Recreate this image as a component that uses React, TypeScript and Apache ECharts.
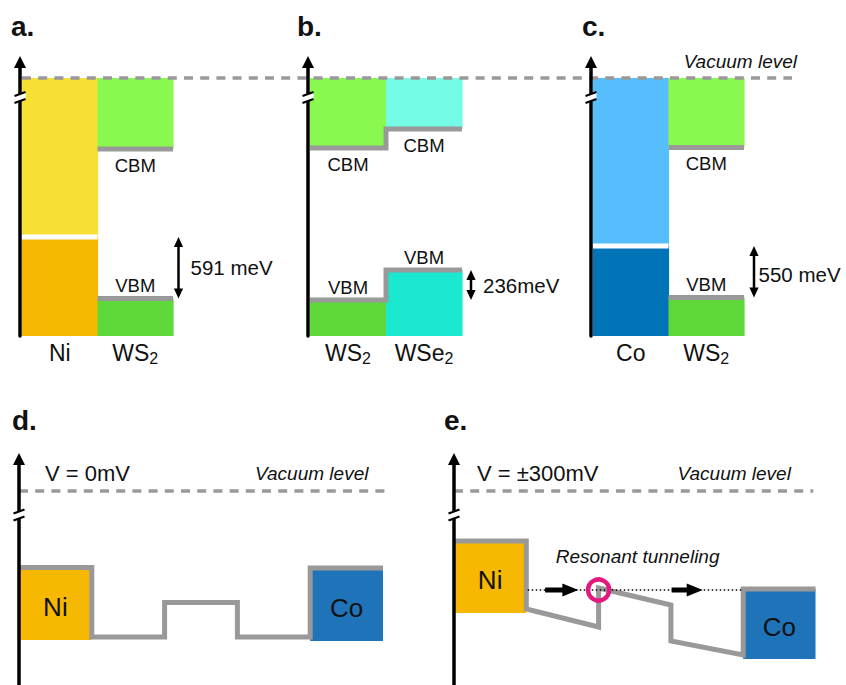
import React, { useEffect, useRef } from "react";
import * as echarts from "echarts";

const FONT = '"Liberation Sans", Arial, Helvetica, sans-serif';
const INK = "#111111";
const GRAY = "#999999";

// ---------------- data (energies in eV relative to the vacuum level, schematic) ----------------
const catsA = ["Ni", "WS2"];
const catsB = ["WS2", "WSe2"];
const catsC = ["Co", "WS2"];

const vacuumLevel = 0;
const bandFloor = -2.58;

const fermiA = [-1.59, null];
const cbmA = [null, -0.71];
const vbmA = [null, -2.205];

const fermiB = [null, null];
const cbmB = [-0.7, -0.51];
const vbmB = [-2.22, -1.92];

const fermiC = [-1.68, null];
const cbmC = [null, -0.695];
const vbmC = [null, -2.195];

const offsetLabels = ["591 meV", "236meV", "550 meV"];

const layerPos = [0, 1, 1, 2, 2, 3, 3, 4, 4, 5];
const profileD = [-0.765, -0.765, -1.46, -1.46, -1.115, -1.115, -1.46, -1.46, -0.77, -0.77];
const profileE = [-0.5, -0.5, -1.18, -1.36, -0.97, -1.14, -1.5, -1.64, -0.98, -0.98];

const electrodeNames = ["Ni", "Co"];
const electrodeLayers = [
  [0, 1],
  [4, 5],
];
const electrodeTopD = [-0.765, -0.77];
const electrodeBottomD = [-1.49, -1.5];
const electrodeTopE = [-0.5, -0.98];
const electrodeBottomE = [-1.22, -1.68];

const biasLabels = ["V = 0mV", "V = ±300mV"];
const tunnelLevel = -0.99;
const tunnelSpan = [1.02, 3.98];
const tunnelArrows = [
  [1.26, 1.72],
  [3.01, 3.44],
];
const resonanceX = 2;
const panelLetters = ["a.", "b.", "c.", "d.", "e."];

// ---------------- styles / layout ----------------
const upperColor: Record<string, string> = { Ni: "#F8DF34", Co: "#57BEFE", WS2: "#89F94F", WSe2: "#75FCE7" };
const lowerColor: Record<string, string> = { Ni: "#F6B800", Co: "#0174B8", WS2: "#5FD83A", WSe2: "#1AE8D1" };
const electrodeColor: Record<string, string> = { Ni: "#F6B800", Co: "#1F74B9" };

const TOP = { top: 62, height: 274, min: -2.58, max: 0.16, breakAt: -0.195 };
const BOT = { top: 459, height: 226, min: -1.94, max: 0.32, breakAt: -0.24 };
const topGrids = [
  { left: 22, width: 151 },
  { left: 310, width: 152 },
  { left: 593, width: 151 },
];
const overlayGrid = { left: 22, width: 770 };
const botGrids = [
  { left: 19, width: 364 },
  { left: 454, width: 361.5 },
];
const titlePos = [
  [11, 12],
  [297, 12],
  [582, 12],
  [12, 406],
  [444, 406],
];

const textStyle = (extra: any) => ({ fill: INK, fontFamily: FONT, ...extra });

function breakMark(x: number, y: number) {
  const w = 5.5;
  return [
    {
      type: "polygon",
      shape: { points: [[x - w, y - 1.5], [x + w, y - 5.5], [x + w, y + 1.5], [x - w, y + 5.5]] },
      style: { fill: "#ffffff" },
    },
    { type: "line", shape: { x1: x - w, y1: y - 1.5, x2: x + w, y2: y - 5.5 }, style: { stroke: "#000", lineWidth: 2.2 } },
    { type: "line", shape: { x1: x - w, y1: y + 5.5, x2: x + w, y2: y + 1.5 }, style: { stroke: "#000", lineWidth: 2.2 } },
  ];
}

function breakSeries(idx: number, level: number, axisOffset: number) {
  return {
    type: "custom",
    xAxisIndex: idx,
    yAxisIndex: idx,
    clip: false,
    silent: true,
    z: 12,
    data: [[0, level]],
    renderItem: (params: any, api: any) => {
      const y = api.coord([0, level])[1];
      return { type: "group", children: breakMark(params.coordSys.x - axisOffset, y) };
    },
  };
}

function bandSeries(p: number, cats: string[], fermi: any[], cbm: any[], vbm: any[]) {
  return {
    type: "custom",
    xAxisIndex: p,
    yAxisIndex: p,
    clip: false,
    silent: true,
    z: 2,
    data: cats.map((_, i) => [i, vacuumLevel]),
    renderItem: (params: any, api: any) => {
      const i = params.dataIndex;
      const name = cats[i];
      const [cx, yVac] = api.coord([i, vacuumLevel]);
      const bw = api.size([1, 0])[0];
      const x0 = cx - bw / 2;
      const yFloor = api.coord([i, bandFloor])[1];
      const rect = (yt: number, yb: number, fill: string) => ({
        type: "rect",
        shape: { x: x0, y: yt, width: bw + 0.6, height: yb - yt },
        style: { fill },
      });
      const ch: any[] = [];
      if (fermi[i] != null) {
        const yF = api.coord([i, fermi[i]])[1];
        ch.push(rect(yVac, yF, upperColor[name]), rect(yF, yFloor, lowerColor[name]));
        ch.push({ type: "line", shape: { x1: x0, y1: yF, x2: x0 + bw, y2: yF }, style: { stroke: "#ffffff", lineWidth: 5 } });
      } else {
        const yC = api.coord([i, cbm[i]])[1];
        const yV = api.coord([i, vbm[i]])[1];
        ch.push(rect(yVac, yC, upperColor[name]), rect(yV, yFloor, lowerColor[name]));
      }
      return { type: "group", children: ch };
    },
  };
}

function levelSeries(
  p: number,
  cats: string[],
  cbm: any[],
  vbm: any[],
  from: number,
  to: number,
  label: string,
  arrowDx: number,
  textDx: number,
  textDy: number
) {
  return {
    type: "custom",
    xAxisIndex: p,
    yAxisIndex: p,
    clip: false,
    silent: true,
    z: 4,
    data: [[0, vacuumLevel]],
    renderItem: (params: any, api: any) => {
      const bw = api.size([1, 0])[0];
      const xs = cats.map((_, i) => api.coord([i, vacuumLevel])[0]);
      const ch: any[] = [];
      const levelLine = (vals: any[]) => {
        const pts: number[][] = [];
        vals.forEach((v, i) => {
          if (v == null) return;
          const y = api.coord([i, v])[1];
          pts.push([xs[i] - bw / 2, y], [xs[i] + bw / 2, y]);
        });
        return {
          type: "polyline",
          shape: { points: pts },
          style: { stroke: GRAY, lineWidth: 5, fill: "none", lineJoin: "miter" },
        };
      };
      ch.push(levelLine(cbm), levelLine(vbm));
      cats.forEach((_, i) => {
        if (cbm[i] != null) {
          const y = api.coord([i, cbm[i]])[1];
          ch.push({ type: "text", style: textStyle({ text: "CBM", x: xs[i], y: y + 16, fontSize: 18.5, align: "center", verticalAlign: "middle" }) });
        }
        if (vbm[i] != null) {
          const y = api.coord([i, vbm[i]])[1];
          ch.push({ type: "text", style: textStyle({ text: "VBM", x: xs[i], y: y - 13, fontSize: 18.5, align: "center", verticalAlign: "middle" }) });
        }
      });
      // double arrow for the energy offset
      const ax = params.coordSys.x + params.coordSys.width + arrowDx;
      const y1 = api.coord([0, from])[1];
      const y2 = api.coord([0, to])[1];
      const yT = Math.min(y1, y2);
      const yB = Math.max(y1, y2);
      const head = 10;
      const hw = 4.6;
      ch.push(
        { type: "line", shape: { x1: ax, y1: yT + head - 1, x2: ax, y2: yB - head + 1 }, style: { stroke: "#000", lineWidth: 2.5 } },
        { type: "polygon", shape: { points: [[ax, yT], [ax - hw, yT + head], [ax + hw, yT + head]] }, style: { fill: "#000" } },
        { type: "polygon", shape: { points: [[ax, yB], [ax - hw, yB - head], [ax + hw, yB - head]] }, style: { fill: "#000" } },
        {
          type: "text",
          style: textStyle({ text: label, x: ax + textDx, y: (yT + yB) / 2 + textDy, fontSize: 20.5, align: "left", verticalAlign: "middle" }),
        }
      );
      return { type: "group", children: ch };
    },
  };
}

function electrodeSeries(idx: number, tops: number[], bottoms: number[]) {
  return {
    type: "custom",
    xAxisIndex: idx,
    yAxisIndex: idx,
    clip: false,
    silent: true,
    z: 2,
    data: electrodeNames.map((_, i) => [electrodeLayers[i][0], tops[i]]),
    renderItem: (params: any, api: any) => {
      const i = params.dataIndex;
      const name = electrodeNames[i];
      const [x0, yT] = api.coord([electrodeLayers[i][0], tops[i]]);
      const [x1, yB] = api.coord([electrodeLayers[i][1], bottoms[i]]);
      return {
        type: "group",
        children: [
          { type: "rect", shape: { x: x0, y: yT, width: x1 - x0, height: yB - yT }, style: { fill: electrodeColor[name] } },
          {
            type: "text",
            style: textStyle({ text: name, x: (x0 + x1) / 2, y: (yT + yB) / 2 + 3, fontSize: 26, align: "center", verticalAlign: "middle" }),
          },
        ],
      };
    },
  };
}

function profileSeries(idx: number, profile: number[]) {
  return {
    type: "line",
    xAxisIndex: idx,
    yAxisIndex: idx,
    data: layerPos.map((x, i) => [x, profile[i]]),
    symbol: "none",
    silent: true,
    clip: false,
    z: 3,
    lineStyle: { color: GRAY, width: 5, join: "miter", cap: "butt" },
  };
}

function vacuumSeries(idx: number, span: number[], bias: string, biasDx: number, vacTextX: number) {
  return {
    type: "custom",
    xAxisIndex: idx,
    yAxisIndex: idx,
    clip: false,
    silent: true,
    z: 5,
    data: [[span[0], vacuumLevel]],
    renderItem: (params: any, api: any) => {
      const [xa, y] = api.coord([span[0], vacuumLevel]);
      const xb = api.coord([span[1], vacuumLevel])[0];
      const xt = api.coord([vacTextX, vacuumLevel])[0];
      return {
        type: "group",
        children: [
          { type: "line", shape: { x1: xa, y1: y, x2: xb, y2: y }, style: { stroke: GRAY, lineWidth: 3.3, lineDash: [9, 7.2] } },
          {
            type: "text",
            style: textStyle({ text: bias, x: params.coordSys.x + biasDx, y: y - 18, fontSize: 22, align: "left", verticalAlign: "middle" }),
          },
          {
            type: "text",
            style: textStyle({ text: "Vacuum level", x: xt, y: y - 18, fontSize: 19, fontStyle: "italic", align: "right", verticalAlign: "middle" }),
          },
        ],
      };
    },
  };
}

function tunnelingSeries(idx: number) {
  return {
    type: "custom",
    xAxisIndex: idx,
    yAxisIndex: idx,
    clip: false,
    silent: true,
    z: 6,
    data: [[resonanceX, tunnelLevel]],
    renderItem: (params: any, api: any) => {
      const [xa, y] = api.coord([tunnelSpan[0], tunnelLevel]);
      const xb = api.coord([tunnelSpan[1], tunnelLevel])[0];
      const ch: any[] = [
        { type: "line", shape: { x1: xa, y1: y, x2: xb, y2: y }, style: { stroke: "#000", lineWidth: 1.5, lineDash: [1.5, 2.5] } },
      ];
      tunnelArrows.forEach(([s, e]) => {
        const x0 = api.coord([s, tunnelLevel])[0];
        const x1 = api.coord([e, tunnelLevel])[0];
        const head = 16;
        const hw = 6.5;
        const sw = 2.6;
        ch.push({
          type: "polygon",
          shape: {
            points: [
              [x0, y - sw],
              [x1 - head, y - sw],
              [x1 - head, y - hw],
              [x1, y],
              [x1 - head, y + hw],
              [x1 - head, y + sw],
              [x0, y + sw],
            ],
          },
          style: { fill: "#000" },
        });
      });
      const [rx, ry] = api.coord([resonanceX, tunnelLevel]);
      ch.push({ type: "circle", shape: { cx: rx, cy: ry, r: 10.5 }, style: { fill: "none", stroke: "#E4197F", lineWidth: 4.5 } });
      const [tx, ty] = api.coord([2.54, -0.657]);
      ch.push({
        type: "text",
        style: textStyle({ text: "Resonant tunneling", x: tx, y: ty, fontSize: 19, fontStyle: "italic", align: "center", verticalAlign: "middle" }),
      });
      return { type: "group", children: ch };
    },
  };
}

function buildOption() {
  const topCats = [catsA, catsB, catsC];
  const grid: any[] = [
    ...topGrids.map((g) => ({ left: g.left, width: g.width, top: TOP.top, height: TOP.height })),
    { left: overlayGrid.left, width: overlayGrid.width, top: TOP.top, height: TOP.height },
    ...botGrids.map((g) => ({ left: g.left, width: g.width, top: BOT.top, height: BOT.height })),
  ];
  const labelFormatter = (v: string) => {
    const m = v.match(/^(.*?)(\d+)$/);
    return m ? `{m|${m[1]}}{s|${m[2]}}` : `{m|${v}}`;
  };
  const xAxis: any[] = [
    ...topCats.map((cats, p) => ({
      type: "category",
      gridIndex: p,
      data: cats,
      axisLine: { show: false },
      axisTick: { show: false },
      splitLine: { show: false },
      axisLabel: {
        interval: 0,
        margin: 4,
        formatter: labelFormatter,
        rich: {
          m: { fontSize: 23, fontFamily: FONT, color: INK, lineHeight: 26 },
          s: { fontSize: 16, fontFamily: FONT, color: INK, lineHeight: 12, verticalAlign: "bottom" },
        },
      },
    })),
    { type: "value", gridIndex: 3, min: 0, max: 1, show: false },
    { type: "value", gridIndex: 4, min: 0, max: 5, show: false },
    { type: "value", gridIndex: 5, min: 0, max: 5, show: false },
  ];
  const shownY = (gridIndex: number, r: any, offset: number) => ({
    type: "value",
    gridIndex,
    min: r.min,
    max: r.max,
    offset,
    z: 10,
    axisLine: {
      show: true,
      onZero: false,
      symbol: ["none", "triangle"],
      symbolSize: [12, 12],
      lineStyle: { color: "#000", width: 3.5 },
    },
    axisTick: { show: false },
    axisLabel: { show: false },
    splitLine: { show: false },
  });
  const yAxis: any[] = [
    shownY(0, TOP, 2),
    shownY(1, TOP, 2),
    shownY(2, TOP, 2),
    { type: "value", gridIndex: 3, min: TOP.min, max: TOP.max, show: false },
    shownY(4, BOT, 0),
    shownY(5, BOT, 0),
  ];

  const series: any[] = [
    bandSeries(0, catsA, fermiA, cbmA, vbmA),
    bandSeries(1, catsB, fermiB, cbmB, vbmB),
    bandSeries(2, catsC, fermiC, cbmC, vbmC),
    levelSeries(0, catsA, cbmA, vbmA, fermiA[0] as number, vbmA[1] as number, offsetLabels[0], 5.5, 12, 0),
    levelSeries(1, catsB, cbmB, vbmB, vbmB[0] as number, vbmB[1] as number, offsetLabels[1], 9, 12, 0),
    levelSeries(2, catsC, cbmC, vbmC, fermiC[0] as number, vbmC[1] as number, offsetLabels[2], 10, 4.5, 3),
    {
      type: "custom",
      xAxisIndex: 3,
      yAxisIndex: 3,
      clip: false,
      silent: true,
      z: 5,
      data: [[0, vacuumLevel]],
      renderItem: (params: any, api: any) => {
        const [xa, y] = api.coord([0, vacuumLevel]);
        const xb = api.coord([1, vacuumLevel])[0];
        return {
          type: "group",
          children: [
            { type: "line", shape: { x1: xa, y1: y, x2: xb, y2: y }, style: { stroke: GRAY, lineWidth: 3.3, lineDash: [9, 7.2] } },
            {
              type: "text",
              style: textStyle({ text: "Vacuum level", x: xb + 5, y: y - 17, fontSize: 19, fontStyle: "italic", align: "right", verticalAlign: "middle" }),
            },
          ],
        };
      },
    },
    breakSeries(0, TOP.breakAt, 2),
    breakSeries(1, TOP.breakAt, 2),
    breakSeries(2, TOP.breakAt, 2),
    electrodeSeries(4, electrodeTopD, electrodeBottomD),
    profileSeries(4, profileD),
    vacuumSeries(4, [0, 5.05], biasLabels[0], 26, 4.8),
    breakSeries(4, BOT.breakAt, 0),
    electrodeSeries(5, electrodeTopE, electrodeBottomE),
    profileSeries(5, profileE),
    vacuumSeries(5, [0, 4.97], biasLabels[1], 23, 4.66),
    tunnelingSeries(5),
    breakSeries(5, BOT.breakAt, 0),
  ];

  return {
    animation: false,
    backgroundColor: "#ffffff",
    textStyle: { fontFamily: FONT },
    title: panelLetters.map((t, k) => ({
      text: t,
      left: titlePos[k][0],
      top: titlePos[k][1],
      padding: 0,
      textStyle: { fontSize: 28, fontWeight: "bold", color: INK, fontFamily: FONT },
    })),
    grid,
    xAxis,
    yAxis,
    series,
  };
}

export default function App() {
  const ref = useRef<HTMLDivElement>(null);
  useEffect(() => {
    document.body.style.margin = "0";
    const chart = echarts.init(ref.current as HTMLDivElement, undefined, { renderer: "svg", width: 846, height: 685 });
    chart.setOption(buildOption() as any);
    return () => chart.dispose();
  }, []);
  return <div ref={ref} style={{ width: 846, height: 685, position: "absolute", left: 0, top: 0, background: "#fff" }} />;
}
